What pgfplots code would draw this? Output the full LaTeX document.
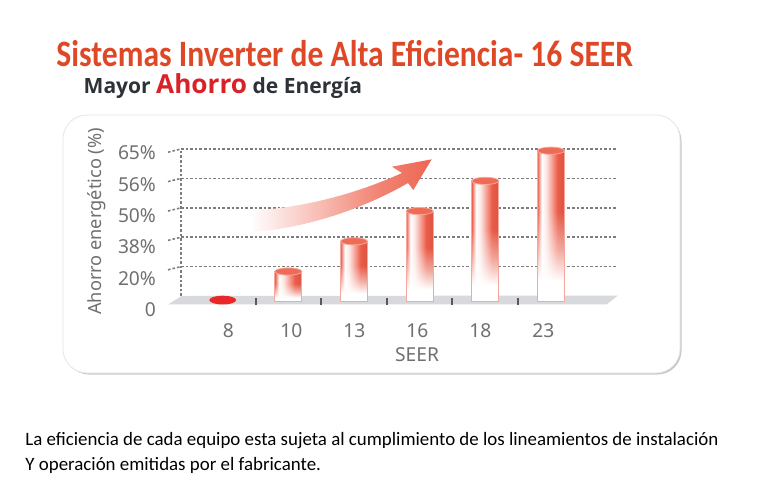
\documentclass[border=0pt]{standalone}
\usepackage{pgfplots}
\pgfplotsset{compat=1.18}
\usepackage{pgfplotstable}
\usepackage{graphicx}
\usepackage{fontspec}
\setmainfont{Carlito}
\newfontfamily\chartfont{Noto Sans}
\newfontfamily\subfont{Open Sans}
\usetikzlibrary{fadings}

\definecolor{titlered}{RGB}{222,72,38}
\definecolor{ahorrored}{RGB}{216,34,40}
\definecolor{subgray}{RGB}{45,50,56}
\definecolor{axgray}{RGB}{112,112,112}
\definecolor{gridgray}{RGB}{125,125,125}
\definecolor{floorgray}{RGB}{216,217,220}
\definecolor{barred}{RGB}{236,92,72}
\definecolor{bartop}{RGB}{238,108,86}
\definecolor{barrim}{RGB}{246,168,158}
\definecolor{dotred}{RGB}{232,40,40}
\definecolor{arrowred}{RGB}{238,102,82}

% cylinder body: red edges, highlight left of centre
\pgfdeclarehorizontalshading{cylinder}{100bp}{color(0bp)=(barred); color(25bp)=(barred);
  color(29bp)=(barred!50!white); color(33bp)=(white); color(41bp)=(white!85!barred);
  color(62bp)=(barred); color(75bp)=(barred!92!black); color(100bp)=(barred!92!black)}
\pgfdeclarehorizontalshading{arrowshade}{100bp}{color(0bp)=(white); color(25bp)=(white);
  color(60bp)=(arrowred!80); color(75bp)=(arrowred); color(100bp)=(arrowred)}
% white overlay: opaque at the foot of a bar, gone above ~60% of its height
\pgfdeclareverticalshading{barfadeshade}{100bp}{color(0bp)=(white); color(32bp)=(white);
  color(42bp)=(white!50!black); color(55bp)=(black); color(100bp)=(black)}
\tikzfading[name=barfade, shade, shading=barfadeshade]

\pgfdeclareplotmark{cyltop}{%
  \pgfpathellipse{\pgfpointorigin}{\pgfqpoint{6.75pt}{0pt}}{\pgfqpoint{0pt}{1.8pt}}%
  \pgfusepathqfillstroke}
\pgfdeclareplotmark{flatdot}{%
  \pgfpathellipse{\pgfqpoint{0pt}{0.8pt}}{\pgfqpoint{6.7pt}{0pt}}{\pgfqpoint{0pt}{2.2pt}}%
  \pgfusepathqfill}

% SEER 8, 10, 13, 16, 18, 23 -> positions 0..5
\pgfplotstableread{
pos saving
0 0
1 20
2 38
3 50
4 56
5 65
}\savingsdata

\begin{document}
\begin{tikzpicture}
\path[use as bounding box] (0,0) rectangle (389pt,-244pt);

\begin{scope}[x=0.5pt,y=-0.5pt]
  % panel
  \fill[black!22, rounded corners=12pt] (65,117) rectangle (681.5,374.5);
  \fill[white, draw=black!10, rounded corners=12pt] (63,115) rectangle (680,373);
  % floor
  \fill[floorgray] (168.3,304.3) -- (181.7,296) -- (618,295.5) -- (606.7,304.3) -- cycle;
  % titles
  \node[anchor=base west, inner sep=0pt, text=titlered] at (56,66.7)
    {\resizebox{288.35pt}{\height}{\fontsize{18.6}{20}\selectfont\bfseries Sistemas Inverter de Alta Eficiencia- 16 SEER}};
  \node[anchor=base west, inner sep=0pt] at (83.3,93)
    {\resizebox{139.2pt}{!}{\subfont\bfseries\fontsize{10.6}{12}\selectfont\color{subgray}Mayor {\color{ahorrored}\fontsize{13.2}{14}\selectfont Ahorro} de Energía}};
  \node[anchor=base west, inner sep=0pt] at (25,445)
    {\resizebox{346.5pt}{!}{\fontsize{8.66}{11.5}\selectfont\begin{tabular}[t]{@{}l@{}}La eficiencia de cada equipo esta sujeta al cumplimiento de los lineamientos de instalación\\Y operación emitidas por el fabricante.\end{tabular}}};
\end{scope}

% back wall with dotted grid
\begin{axis}[at={(90.5pt,-148pt)}, anchor=south west, scale only axis,
  width=218pt, height=73.5pt, xmin=0, xmax=1, ymin=0, ymax=5,
  axis x line=none, axis y line*=left,
  y axis line style={gridgray, line width=0.8pt, dash pattern=on 1.3pt off 1pt},
  ytick={1,2,3,4,5}, yticklabels={}, major tick length=0pt,
  ymajorgrids, major grid style={gridgray, line width=0.8pt, dash pattern=on 1.3pt off 1pt},
  clip=false]
\pgfplotsinvokeforeach{1,...,5}{
  \draw[gridgray, line width=0.8pt, dash pattern=on 1.3pt off 1pt]
    ([xshift=-6.5pt,yshift=-1.6pt]axis cs:0,#1) -- (axis cs:0,#1);}
\end{axis}

% arrow
\begin{scope}[x=0.5pt,y=-0.5pt]
  \shade[shading=arrowshade] (250,211) .. controls (310,207) and (360,192) .. (402,173)
    -- (392,166.7) -- (431.7,159.3) -- (413.3,190) -- (408,183)
    .. controls (365,208) and (305,229) .. (250,232) -- cycle;
\end{scope}

% bars: one plot per bar so that shading and fading fit each cylinder
\begin{axis}[at={(94.95pt,-150.85pt)}, anchor=south west, scale only axis,
  width=196.95pt, height=75.5pt,
  xmin=-0.5, xmax=5.5,
  symbolic y coords={0,20,38,50,56,65}, ymin=0, ymax=65,
  axis x line*=bottom, axis y line=none,
  x axis line style={draw=none},
  xtick={0.5,1.5,2.5,3.5,4.5}, xticklabels={},
  major tick length=3.4pt, tick align=center,
  x tick style={line width=1pt, black!65},
  every axis plot/.append style={ybar, bar width=13.5pt, bar shift=0pt},
  clip=false]
\pgfplotsinvokeforeach{1,...,5}{
  \addplot[draw=none, shade, shading=cylinder, restrict x to domain=#1:#1]
    table[x=pos, y=saving] {\savingsdata};
  \addplot[draw=none, fill=white, path fading=barfade, restrict x to domain=#1:#1]
    table[x=pos, y=saving] {\savingsdata};
  \addplot[draw=barrim, line width=0.5pt, fill=none, restrict x to domain=#1:#1]
    table[x=pos, y=saving] {\savingsdata};
}
\addplot[only marks, mark=cyltop, mark options={fill=bartop, draw=barrim, line width=0.4pt},
  restrict x to domain=1:5] table[x=pos, y=saving] {\savingsdata};
\addplot[only marks, mark=flatdot, mark options={fill=dotred, draw=none},
  restrict x to domain=0:0] table[x=pos, y=saving] {\savingsdata};
\end{axis}

% front labels
\begin{axis}[at={(81.5pt,-155pt)}, anchor=south west, scale only axis,
  width=190.15pt, height=78.65pt,
  xmin=-1.0365, xmax=5, ymin=0, ymax=5,
  axis line style={draw=none}, major tick length=0pt,
  xtick={0,...,5}, xticklabels={8,10,13,16,18,23},
  ytick={0,...,5}, yticklabels={0,20\%,38\%,50\%,56\%,65\%},
  ticklabel style={font=\chartfont\fontsize{9.6}{11}\selectfont, text=axgray},
  xticklabel style={yshift=-3.5pt},
  xlabel={SEER}, ylabel={Ahorro energético (\%)},
  xlabel style={font=\chartfont\fontsize{9.6}{11}\selectfont, text=axgray,
    at={(axis description cs:0.668,-0.286)}, anchor=center},
  ylabel style={font=\chartfont\fontsize{9.1}{11}\selectfont, text=axgray,
    at={(axis description cs:-0.1743,0.5626)}, anchor=center}]
\end{axis}
\end{tikzpicture}
\end{document}
